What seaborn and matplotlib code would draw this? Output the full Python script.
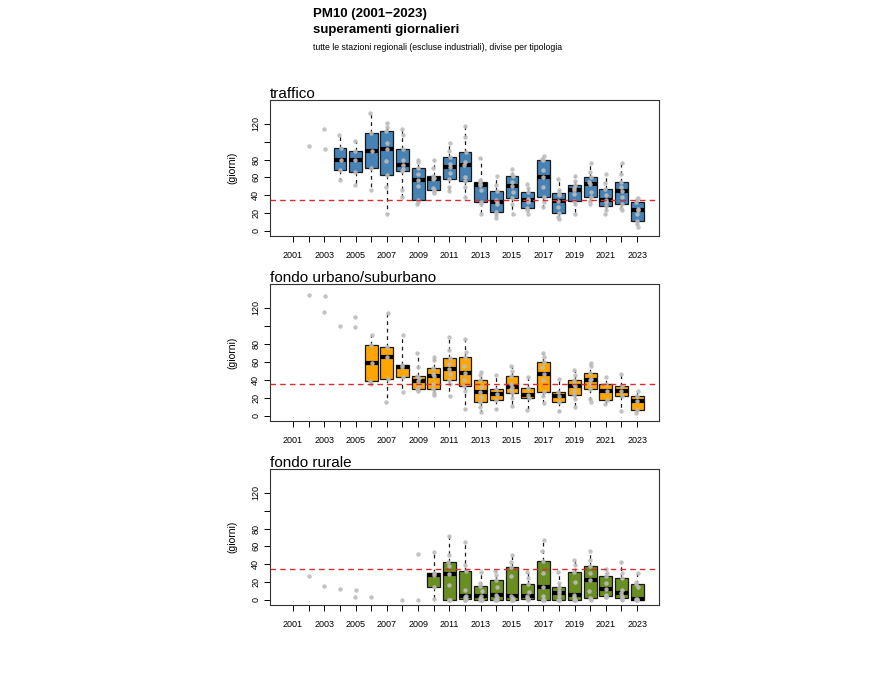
"""
PM10 (2001-2023): superamenti giornalieri per tipologia di stazione
boxplot per anno + punti delle singole stazioni
"""

import numpy as np
import pandas as pd
import matplotlib
matplotlib.use("Agg")
import matplotlib.pyplot as plt
import seaborn as sns

sns.set_theme(style="white")
plt.rcParams['font.family'] = ['Liberation Sans', 'DejaVu Sans']
plt.rcParams['text.color'] = 'black'
plt.rcParams['axes.labelcolor'] = 'black'
np.random.seed(3)

anni = list(range(2001, 2024))
soglia = 35

# giorni di superamento per stazione, un elenco per anno (2001..2023)
traffico = [
    [], [95], [114, 92],
    [57, 68, 79, 93, 107],
    [52, 66, 79, 90, 101],
    [46, 70, 89, 110, 132],
    [19, 49, 63, 78, 92, 98, 112, 116, 121],
    [38, 46, 67, 69, 74, 80, 92, 107, 114],
    [30, 32, 35, 50, 57, 64, 71, 77, 80],
    [42, 44, 46, 48, 58, 59, 62, 70, 80],
    [45, 49, 58, 65, 72, 75, 83, 90, 98],
    [38, 49, 56, 60, 74, 77, 88, 105, 117],
    [19, 30, 33, 46, 52, 53, 55, 57, 82],
    [15, 18, 21, 30, 33, 35, 45, 52, 62],
    [19, 30, 37, 44, 50, 55, 61, 64, 69],
    [19, 23, 26, 32, 35, 36, 44, 48, 53],
    [27, 33, 38, 49, 60, 68, 79, 81, 84],
    [13, 16, 20, 27, 34, 40, 43, 46, 58],
    [19, 30, 34, 41, 46, 48, 52, 56, 61],
    [30, 34, 38, 44, 53, 55, 60, 66, 76],
    [19, 23, 28, 33, 35, 40, 47, 54, 64],
    [23, 26, 30, 38, 45, 49, 55, 64, 76],
    [5, 8, 11, 19, 24, 25, 32, 36, 37],
]
traffico_primo_box = 2004

urbano = [
    [], [134], [133, 115], [100], [110, 99],
    [35, 39, 59, 79, 90],
    [16, 41, 66, 77, 114],
    [27, 43, 54, 57, 90],
    [28, 29, 30, 34, 39, 42, 44, 54, 70],
    [23, 26, 30, 36, 44, 47, 53, 62, 66],
    [22, 35, 40, 47, 52, 58, 64, 73, 88],
    [8, 28, 33, 40, 48, 55, 66, 71, 86],
    [4, 10, 16, 21, 27, 32, 40, 45, 49],
    [8, 18, 24, 30, 45],
    [11, 20, 25, 30, 32, 36, 44, 50, 55],
    [7, 20, 23, 31, 43],
    [14, 22, 27, 40, 47, 54, 60, 66, 70],
    [6, 15, 22, 27, 41],
    [10, 19, 23, 28, 33, 35, 40, 46, 51],
    [16, 19, 30, 36, 40, 41, 48, 55, 59],
    [13, 18, 28, 35, 43],
    [6, 22, 28, 33, 47],
    [3, 7, 17, 22, 28],
]
urbano_primo_box = 2006

rurale = [
    [], [27], [16], [12], [11, 3], [3], [], [0], [52, 0],
    [1, 15, 28, 30, 54],
    [0, 0, 0, 17, 29, 38, 43, 50, 72],
    [0, 0, 1, 3, 5, 11, 33, 39, 65],
    [0, 0, 0, 2, 4, 10, 16, 19, 31],
    [0, 0, 0, 3, 6, 15, 22, 28, 33],
    [0, 0, 0, 2, 5, 27, 37, 43, 50],
    [0, 1, 1, 2, 4, 9, 18, 25, 31],
    [0, 0, 0, 5, 15, 30, 44, 55, 67],
    [0, 0, 0, 4, 8, 10, 15, 19, 31],
    [0, 0, 0, 3, 6, 20, 31, 39, 45],
    [0, 1, 2, 10, 22, 30, 38, 45, 55],
    [3, 3, 4, 6, 12, 19, 27, 30, 35],
    [0, 1, 2, 5, 8, 11, 25, 30, 43],
    [0, 0, 0, 1, 1, 15, 18, 20, 30],
]
rurale_primo_box = 2010

pannelli = [
    ("traffico", traffico, traffico_primo_box, "#4682B4"),
    ("fondo urbano/suburbano", urbano, urbano_primo_box, "#FFA500"),
    ("fondo rurale", rurale, rurale_primo_box, "#6B8E23"),
]

# posizione pannelli in pixel (top, bottom)
W, H = 882, 682
px_left, px_right = 270, 659
px_rows = [(100, 236), (284, 421), (469, 605)]


def to_long(valori):
    rows = []
    for anno, vals in zip(anni, valori):
        for v in vals:
            rows.append({"anno": anno, "giorni": v})
    return pd.DataFrame(rows)


fig = plt.figure(figsize=(W / 100, H / 100), dpi=100)

for (titolo, valori, primo_box, colore), (top, bot) in zip(pannelli, px_rows):
    ax = fig.add_axes([px_left / W, 1 - bot / H,
                       (px_right - px_left) / W, (bot - top) / H])
    df = to_long(valori)
    df_box = df[df["anno"] >= primo_box]

    sns.boxplot(data=df_box, x="anno", y="giorni", order=anni, ax=ax,
                color=colore, saturation=1, linecolor="#1a1a1a", linewidth=0.9,
                width=0.82, whis=(0, 100), showfliers=False, showcaps=False,
                medianprops=dict(color="black", linewidth=3),
                whiskerprops=dict(color="#1a1a1a", linestyle=(0, (3, 3))))
    sns.stripplot(data=df, x="anno", y="giorni", order=anni, ax=ax,
                  color="#BDBDBD", size=3.2, jitter=0.06, alpha=0.9,
                  linewidth=0, zorder=4)

    ax.axhline(soglia, color="#D42E2E", linestyle=(0, (4, 3)), linewidth=1, zorder=5)

    ax.set_xlim(-1.47, 23.4)
    ax.set_ylim(-5.6, 146.6)
    ax.set_xticks(range(len(anni)))
    ax.set_xticklabels([str(a) if a % 2 == 1 else "" for a in anni])
    ax.set_yticks([0, 20, 40, 60, 80, 100, 120])
    ax.set_yticklabels(["0", "20", "40", "60", "80", "", "120"],
                       rotation=90, va="center")
    ax.tick_params(direction="out", length=4, width=0.7, labelsize=6.5,
                   colors="black", bottom=True, left=True)
    ax.tick_params(axis="x", pad=7)
    ax.tick_params(axis="y", pad=3)
    ax.set_xlabel("")
    ax.set_ylabel("(giorni)", fontsize=7.5, labelpad=10)
    for s in ax.spines.values():
        s.set_color("#333333")
        s.set_linewidth(0.8)
    ax.set_title(titolo, loc="left", fontsize=11, pad=1.5, x=0.0, color="black")

fig.text(313 / W, 1 - 14 / H, "PM10 (2001\u22122023)", fontsize=9.5,
         fontweight="bold", ha="left", va="center")
fig.text(313 / W, 1 - 30 / H, "superamenti giornalieri", fontsize=9.5,
         fontweight="bold", ha="left", va="center")
fig.text(313 / W, 1 - 47 / H,
         "tutte le stazioni regionali (escluse industriali), divise per tipologia",
         fontsize=6.3, ha="left", va="center")

fig.savefig("out.png", dpi=100)
